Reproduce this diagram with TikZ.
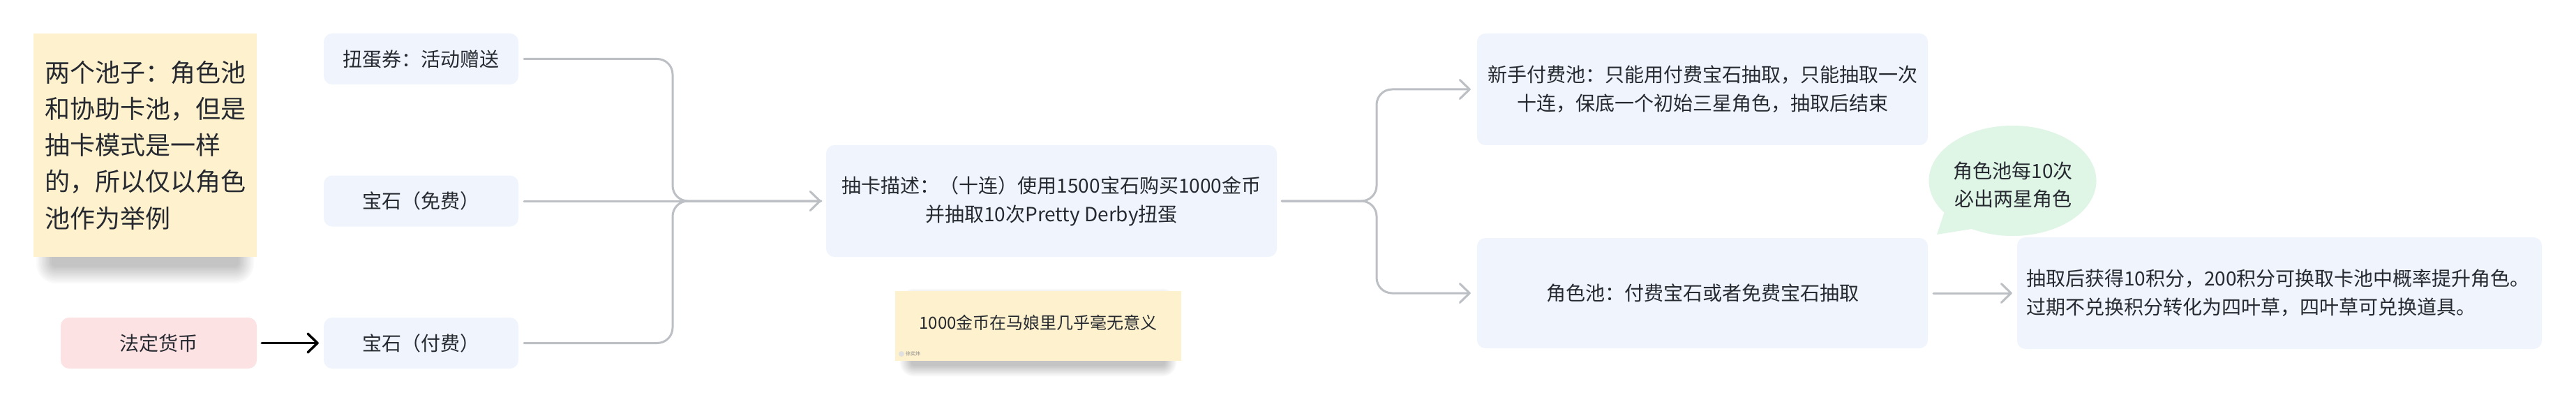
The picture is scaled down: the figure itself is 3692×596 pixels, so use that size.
\documentclass[tikz,border=0pt]{standalone}
\usepackage{fontspec}
\newfontfamily\cjk{Noto Sans CJK SC}
\usetikzlibrary{arrows.meta,shapes.geometric}
\definecolor{boxblue}{HTML}{EFF4FD}
\definecolor{noteyel}{HTML}{FEF1CD}
\definecolor{pinkbox}{HTML}{FDE2E4}
\definecolor{bubgreen}{HTML}{DFF5E6}
\definecolor{lineg}{HTML}{BCBFC4}
\definecolor{txt}{HTML}{262A30}
\begin{document}
\begin{tikzpicture}[x=1pt,y=-1pt,
  box/.style={rectangle, rounded corners=12pt, fill=boxblue, text=txt, inner sep=0pt,
    align=center, font=\cjk\fontsize{28}{41}\selectfont},
  notebox/.style={rectangle, fill=noteyel, text=txt, inner sep=0pt},
  shadowlayer/.style={fill=black, opacity=0.02},
  conn/.style={draw=lineg, line width=3pt, line cap=round, rounded corners=22pt},
  gtip/.style={-{Straight Barb[length=14pt,width=27pt,round]}},
  btip/.style={-{Straight Barb[length=14pt,width=27pt,round]}},
]
\useasboundingbox (0,0) rectangle (3692,596);
\fill[white] (0,0) rectangle (3692,596);

% soft shadows under the two notes
\foreach \i in {0,...,11}{
  \fill[shadowlayer, rounded corners=(6+2*\i)*1pt] (74-2*\i,70-2*\i) rectangle (342+2*\i,382+2.2*\i);
  \fill[shadowlayer, rounded corners=(4+1.5*\i)*1pt] (1306-1.5*\i,430-1.5*\i) rectangle (1670+1.5*\i,524+1.4*\i);
}

% left note
\node[notebox, minimum width=320pt, minimum height=320pt, align=left,
  font=\cjk\fontsize{36}{52.2}\selectfont] (note1) at (208,208)
  {两个池子：角色池\\和协助卡池，但是\\抽卡模式是一样\\的，所以仅以角色\\池作为举例};

% source boxes
\node[box, minimum width=279pt, minimum height=73pt] (t1) at (603.5,84.5) {扭蛋券：活动赠送};
\node[box, minimum width=279pt, minimum height=73pt] (t2) at (603.5,288) {宝石（免费）};
\node[box, minimum width=279pt, minimum height=73pt] (t3) at (603.5,491.5) {宝石（付费）};
\node[box, fill=pinkbox, minimum width=281pt, minimum height=73pt] (fiat) at (227.5,491.5) {法定货币};

% description
\node[box, minimum width=646pt, minimum height=160pt] (desc) at (1507,288)
  {抽卡描述：（十连）使用1500宝石购买1000金币\\并抽取10次Pretty Derby扭蛋};

% second note
\node[notebox, minimum width=410pt, minimum height=100pt] (note2) at (1488,467) {};
\node[text=txt, font=\cjk\fontsize{24}{30}\selectfont, inner sep=0pt] (note2t) at (1488,462)
  {1000金币在马娘里几乎毫无意义};
\fill[black!12] (1292,507) circle (4);
\node[text=black!45, font=\cjk\fontsize{7}{8}\selectfont, inner sep=0pt, anchor=west] (author) at (1298,507) {徐奕炜};

% pools
\node[box, minimum width=646pt, minimum height=160pt] (p1) at (2440,128)
  {新手付费池：只能用付费宝石抽取，只能抽取一次\\十连，保底一个初始三星角色，抽取后结束};
\node[box, minimum width=646pt, minimum height=158pt] (p2) at (2440,420)
  {角色池：付费宝石或者免费宝石抽取};
\node[box, minimum width=752pt, minimum height=160pt, text width=726pt, align=left] (b4) at (3267,420)
  {抽取后获得10积分，200积分可换取卡池中概率提升角色。\\过期不兑换积分转化为四叶草，四叶草可兑换道具。};

% bubble
\fill[bubgreen] (2884.5,259) ellipse [x radius=120, y radius=79];
\fill[bubgreen] (2788,300) -- (2776,336) -- (2826,328) -- cycle;
\node[text=txt, align=center, inner sep=0pt, font=\cjk\fontsize{28}{40}\selectfont] (bub) at (2885,265)
  {角色池每10次\\必出两星角色};

% connectors
\coordinate (mx) at (964,288);
\coordinate (sx) at (1973,288);
\draw[conn] ([xshift=8pt]t1.east) -| (mx) -- ([xshift=-7pt]desc.west);
\draw[conn] ([xshift=8pt]t3.east) -| (mx) -- ([xshift=-7pt]desc.west);
\draw[conn, gtip] ([xshift=8pt]t2.east) -- ([xshift=-7pt]desc.west);
\draw[conn, gtip] ([xshift=7pt]desc.east) -- (sx) |- ([xshift=-9pt]p1.west);
\draw[conn, gtip] ([xshift=7pt]desc.east) -- (sx) |- ([xshift=-9pt]p2.west);
\draw[conn, gtip] ([xshift=8pt]p2.east) -- ([xshift=-7pt]b4.west);
\draw[black, line width=3.5pt, line cap=round, btip] ([xshift=7pt]fiat.east) -- ([xshift=-7pt]t3.west);
\end{tikzpicture}
\end{document}
